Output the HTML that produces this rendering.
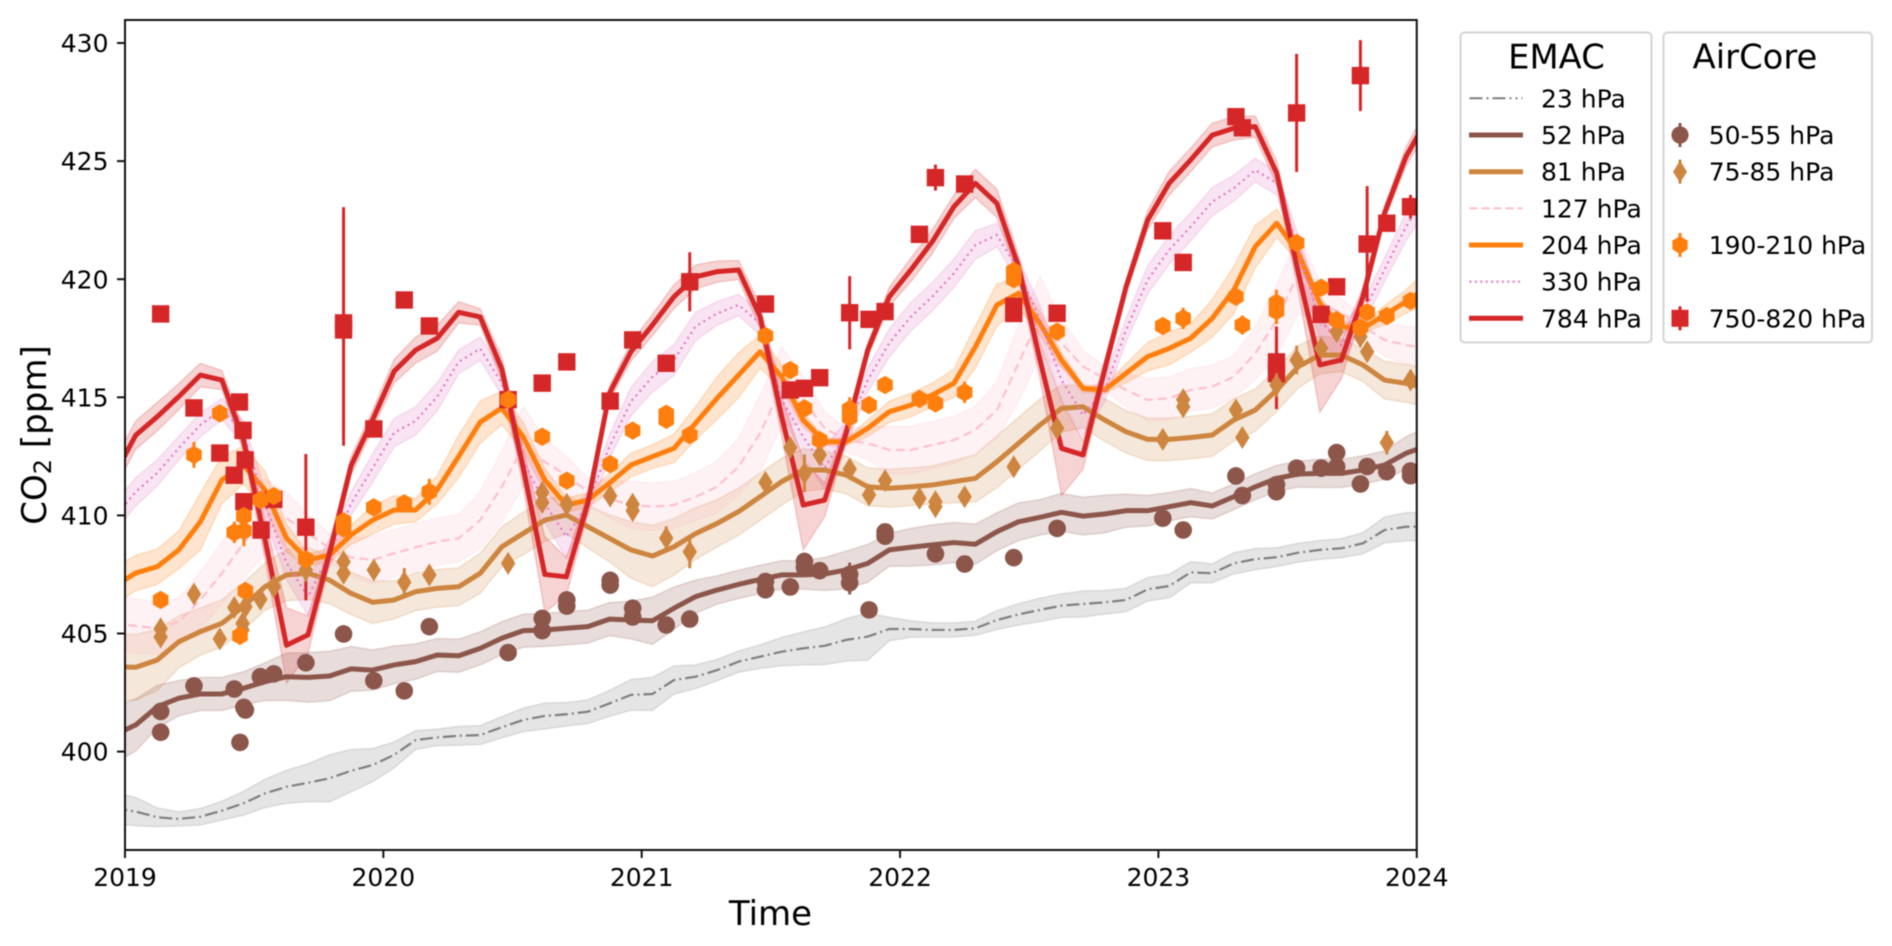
<!DOCTYPE html>
<html lang="en">
<head>
<meta charset="utf-8">
<title>CO2 EMAC and AirCore</title>
<style>
html,body{margin:0;padding:0;background:#fff;}
svg{display:block;font-family:"DejaVu Sans","Liberation Sans",sans-serif;filter:blur(0.5px);}
</style>
</head>
<body>
<svg id="chart" xmlns="http://www.w3.org/2000/svg" width="1892" height="946" viewBox="0 0 1892 946">
  <defs><clipPath id="plot-clip"><rect x="125" y="20" width="1291.75" height="830"/></clipPath></defs>
  <rect x="0" y="0" width="1892" height="946" fill="#fff"/>
  <g id="bands" clip-path="url(#plot-clip)"></g>
  <g id="lines" clip-path="url(#plot-clip)"></g>
  <g id="markers" clip-path="url(#plot-clip)"></g>
  <rect x="125" y="20" width="1291.75" height="830" fill="none" stroke="#111" stroke-width="2"/>
  <g id="axes"></g>
  <text x="770.5" y="925" font-size="34" text-anchor="middle" fill="#000">Time</text>
  <text transform="translate(46,435) rotate(-90)" font-size="34" text-anchor="middle" fill="#000">CO<tspan font-size="24" dy="5">2</tspan><tspan dy="-5"> [ppm]</tspan></text>

  <g>
    <rect x="1460.5" y="32.5" width="191" height="310" rx="4" fill="#fff" stroke="#d4d4d4" stroke-width="2"/>
    <text x="1556.5" y="68.5" font-size="33.8" text-anchor="middle">EMAC</text>
    <line x1="1469.5" x2="1522.5" y1="98.3" y2="98.3" stroke="#7f7f7f" stroke-width="2" stroke-dasharray="13,4,2,4,13,4,2,4,2,4"/>
    <text x="1541" y="107.3" font-size="25">23 hPa</text>
    <line x1="1469" x2="1523" y1="135" y2="135" stroke="#8c564b" stroke-width="5"/>
    <text x="1541" y="144" font-size="25">52 hPa</text>
    <line x1="1469" x2="1523" y1="171.7" y2="171.7" stroke="#cd853f" stroke-width="5"/>
    <text x="1541" y="180.7" font-size="25">81 hPa</text>
    <line x1="1469.5" x2="1522.5" y1="208.3" y2="208.3" stroke="#ffc0cb" stroke-width="2.2" stroke-dasharray="8,4"/>
    <text x="1541" y="217.3" font-size="25">127 hPa</text>
    <line x1="1469" x2="1523" y1="245" y2="245" stroke="#ff7f0e" stroke-width="5"/>
    <text x="1541" y="254" font-size="25">204 hPa</text>
    <line x1="1469.5" x2="1522.5" y1="281.7" y2="281.7" stroke="#e377c2" stroke-width="2.2" stroke-dasharray="2,3.4"/>
    <text x="1541" y="290.7" font-size="25">330 hPa</text>
    <line x1="1469" x2="1523" y1="318.3" y2="318.3" stroke="#d62728" stroke-width="5"/>
    <text x="1541" y="327.3" font-size="25">784 hPa</text>
  </g>

  <g>
    <rect x="1663.5" y="32.5" width="208.5" height="310" rx="4" fill="#fff" stroke="#d4d4d4" stroke-width="2"/>
    <text x="1755" y="68.5" font-size="33.8" text-anchor="middle">AirCore</text>
    <line x1="1680" x2="1680" y1="123" y2="147" stroke="#8c564b" stroke-width="3"/>
    <circle cx="1680" cy="135" r="8.6" fill="#8c564b"/>
    <text x="1708.7" y="144" font-size="25">50-55 hPa</text>
    <line x1="1680" x2="1680" y1="159.7" y2="183.7" stroke="#cd853f" stroke-width="3"/>
    <polygon points="1680,160.7 1687,171.7 1680,182.7 1673,171.7" fill="#cd853f"/>
    <text x="1708.7" y="180.7" font-size="25">75-85 hPa</text>
    <line x1="1680" x2="1680" y1="233" y2="257" stroke="#ff7f0e" stroke-width="3"/>
    <polygon points="1680,236 1687.6,240.5 1687.6,249.5 1680,254 1672.4,249.5 1672.4,240.5" fill="#ff7f0e"/>
    <text x="1708.7" y="254" font-size="25">190-210 hPa</text>
    <line x1="1680" x2="1680" y1="306.3" y2="330.3" stroke="#d62728" stroke-width="3"/>
    <rect x="1671.5" y="309.8" width="17" height="17" fill="#d62728"/>
    <text x="1708.7" y="327.3" font-size="25">750-820 hPa</text>
  </g>
</svg>
<script>
// ---- tick labels ----
const xTickYears = [2019, 2020, 2021, 2022, 2023, 2024];
const yTickValues = [400, 405, 410, 415, 420, 425, 430];

// ---- EMAC monthly means: Dec 2018, 2019 (12), 2020 (12), 2021 (12), 2022 (12), 2023 (12), Jan 2024 ----
const mean23 = [397.6,
 397.46,397.22,397.15,397.24,397.5,397.81,398.23,398.51,398.68,398.87,399.19,399.43,
 399.86,400.49,400.6,400.67,400.7,401.03,401.34,401.51,401.58,401.69,402.04,402.4,
 402.44,403.03,403.17,403.45,403.81,404.02,404.23,404.37,404.48,404.73,404.87,405.19,
 405.19,405.15,405.15,405.22,405.57,405.81,406,406.18,406.25,406.32,406.42,406.87,
 407.01,407.59,407.55,407.97,408.15,408.23,408.42,408.54,408.61,408.82,409.38,409.52,
 409.52];
const spread23 = [.65,
 .6,.4,.3,.35,.4,.5,.6,.7,.8,1,.9,.7,
 .55,.4,.35,.4,.4,.45,.5,.55,.5,.5,.55,.65,
 .7,.6,.5,.45,.45,.5,.6,.7,.8,.9,1,.5,
 .35,.3,.3,.3,.4,.45,.5,.5,.55,.5,.5,.5,
 .5,.45,.4,.45,.45,.4,.4,.4,.4,.45,.55,.6,
 .6];
const mean52 = [400.7,
 401.13,401.9,402.26,402.44,402.44,402.68,402.96,403.17,403.14,403.2,403.5,403.45,
 403.67,403.81,404.09,404.06,404.37,404.8,405.12,405.15,405.22,405.29,405.61,405.57,
 405.54,406.07,406.56,406.84,407.08,407.29,407.48,407.48,407.52,407.69,407.97,408.54,
 408.65,408.75,408.85,408.78,409.31,409.73,409.92,410.13,409.97,410.06,410.2,410.2,
 410.37,410.54,410.4,410.79,411.21,411.57,411.75,411.78,411.78,411.92,412.13,412.63,
 412.95];
const spread52 = [1.2,
 1.1,.9,.75,.7,.7,.7,.8,1,1.05,1.05,.95,.85,
 .8,.75,.7,.7,.7,.7,.7,.7,.7,.7,.7,.8,
 1,.9,.7,.6,.6,.6,.6,.6,.7,.8,.8,.7,
 .8,.85,.85,.85,.8,.8,.75,.8,.8,.8,.7,.65,
 .6,.6,.55,.55,.55,.55,.55,.6,.6,.6,.6,.7,
 .8];
const mean81 = [403.6,
 403.57,403.88,404.65,405.08,405.43,406.14,406.98,407.48,407.55,407.26,406.7,406.32,
 406.42,406.77,406.91,406.98,407.55,408.67,409.24,409.8,410.02,409.52,409.03,408.54,
 408.28,408.67,409.23,409.66,410.16,410.79,411.43,411.92,411.92,411.71,411.21,411.15,
 411.21,411.29,411.43,411.57,412.27,413.05,413.83,414.53,414.6,414.04,413.54,413.22,
 413.22,413.3,413.4,414.04,414.46,415.31,416.3,416.79,416.79,416.37,415.73,415.59,
 415.38];
const spread81 = [1.4,
 1.4,1.3,1.1,1,1,1,1,1.1,1.1,1,.9,.9,
 .8,.8,.8,.8,.85,.85,.9,.9,.8,.9,1,1.2,
 1.3,1.2,1.1,1,1,1,1,.9,.8,.8,.8,.8,
 .8,.8,.9,1,1.1,1.1,1.1,1,.9,.9,.9,.9,
 .9,.9,.9,.9,.9,.9,.9,.8,.7,.7,.8,.8,
 .8];
const mean127 = [405.43,
 405.32,405.22,405.5,406.42,407.55,408.82,409.95,409.88,409.24,408.61,408.22,408.11,
 408.4,408.65,408.89,409.03,409.8,411.21,412.91,412.27,411.7,411,410.7,410.44,
 410.37,410.44,410.79,411.21,412.06,413.48,415.45,414.89,413.69,413.19,413.05,412.77,
 412.77,412.98,413.19,413.62,414.46,416.44,418.41,417.29,416.3,415.8,415.31,414.89,
 414.96,415.31,415.45,415.87,416.86,418.27,420.25,419,418.55,418,417.43,417.21,
 417.07];
const spread127 = [1.1,
 1.15,1.1,1,1.2,1.3,1.5,1.6,1.1,.8,.6,.8,1,
 1,1,1,1,1.2,1.5,1.7,1,.8,.6,.8,1,
 1,1,1,1.1,1.2,1.6,1.7,1,.7,.5,.7,1,
 1,1,1,1,1.2,1.6,1.7,1,.7,.5,.7,.9,
 .9,.9,.9,.9,1.1,1.5,1.7,.9,.6,.5,.7,.8,
 .9];
const mean204 = [407,
 407.56,407.83,408.54,409.73,411.5,412.13,411.08,409.04,408.11,408.32,409.17,409.8,
 410.23,410.23,411.08,412.5,413.95,414.55,413.32,411.5,410.44,410.65,411.37,412.13,
 412.49,412.84,413.9,414.96,415.94,416.93,415.87,414.04,413.12,413.12,413.69,414.39,
 414.67,415.1,415.59,417.14,418.91,419.4,418.13,416.58,415.38,415.31,416.02,416.72,
 417.07,417.5,418.34,419.54,421.38,422.37,421.1,418.98,417.99,417.92,418.48,419.05,
 419.68];
const spread204 = [.8,
 .75,.75,.8,1.2,1,.8,.8,.6,.25,.3,.4,.6,
 .6,.5,.6,.9,.9,.7,.6,.5,.3,.3,.4,.5,
 .5,.6,.7,.9,.95,.7,.5,.3,.15,.15,.35,.45,
 .5,.5,.6,.9,.9,.6,.5,.3,.15,.15,.4,.6,
 .7,.6,.8,1,.9,.6,.4,.25,.2,.2,.4,.5,
 .7];
const mean330 = [409.9,
 411,411.8,412.85,413.83,414.5,413.5,410.5,408,406.55,408.4,410.5,412,
 413.5,414,415.02,416.5,417.06,415.6,412.3,410.5,409.1,410.5,412.9,414.82,
 415.87,416.58,418,418.55,418.91,418.13,414.89,413.33,412,413.5,415.73,417.3,
 418.41,419.26,420.25,421.45,421.87,420.39,418.27,415.73,414.25,415.3,417.85,419.97,
 421.24,422.22,423.28,423.85,424.62,424.06,421.24,418.27,417.21,418.55,420.4,422.22,
 423.64];
const spread330 = [.6,
 .6,.55,.5,.5,.45,.5,.6,.7,.8,.6,.5,.6,
 .6,.6,.6,.5,.5,.5,.6,.8,.9,.5,.5,.6,
 .65,.65,.6,.5,.45,.5,.6,.8,.9,.5,.5,.6,
 .6,.6,.6,.6,.5,.5,.6,.8,.9,.5,.5,.6,
 .6,.6,.6,.55,.5,.5,.6,.8,.8,.5,.5,.6,
 .6];
const mean784 = [411.7,
 413.4,414.18,415.03,415.94,415.73,413.2,409,404.5,404.94,408.4,412.1,414.04,
 416.1,417,417.5,418.6,418.4,416.2,412,407.5,407.4,410.53,415.17,416.93,
 418.06,419.26,420.1,420.32,420.39,418.41,414.18,410.44,410.65,413.5,417,419.26,
 420.39,421.59,423.07,424.06,423.21,420.53,416.58,412.84,412.56,416.16,419.68,422.5,
 424.06,425.05,426.1,426.39,426.46,424.48,420.26,416.37,416.58,419.26,422.79,425.19,
 426.8];
const spread784 = [.6,
 .6,.6,.55,.5,.4,.5,.8,1.6,.8,.4,.4,.4,
 .5,.55,.55,.45,.35,.5,.8,1.6,.8,.4,.3,.4,
 .45,.5,.5,.45,.4,.5,.8,1.9,.7,.4,.3,.4,
 .5,.5,.5,.6,.6,.5,.8,2,.6,.4,.3,.4,
 .5,.5,.5,.5,.45,.5,.8,2,.8,.4,.3,.4,
 .5];

// ---- AirCore samples: decimal date, CO2 value, error ----
const dates750 = [2019.138,2019.267,2019.367,2019.423,2019.443,2019.457,2019.46,2019.465,2019.527,2019.576,2019.70,2019.846,2019.846,2019.963,2020.081,2020.178,2020.483,2020.615,2020.71,2020.878,2020.965,2021.095,2021.186,2021.479,2021.575,2021.63,2021.689,2021.805,2021.88,2021.942,2022.075,2022.137,2022.25,2022.44,2022.44,2022.608,2023.017,2023.096,2023.30,2023.325,2023.457,2023.457,2023.535,2023.63,2023.69,2023.782,2023.808,2023.884,2023.976];
const values750 = [418.53,414.55,412.64,411.7,414.8,413.6,410.58,412.35,409.38,410.68,409.5,418.15,417.85,413.66,419.12,418.02,414.9,415.6,416.5,414.84,417.43,416.44,419.89,418.95,415.31,415.38,415.83,418.58,418.3,418.63,421.9,424.3,424.03,418.85,418.55,418.56,422.05,420.71,426.88,426.41,416.5,416,427.04,418.51,419.68,428.62,421.49,422.37,423.07];
const errors750 = [0.1,0.1,0.1,0.2,0.1,0.1,0.1,0.1,0.1,0.1,3.1,4.9,4.9,0.1,0.1,0.2,0.35,0.1,0.1,0.2,0.1,0.1,1.25,0.1,0.1,0.1,0.1,1.55,0.1,0.1,0.2,0.55,0.1,0.2,0.2,0.1,0.2,0.1,0.1,0.1,1.5,1.5,2.5,0.1,0.1,1.5,2.45,0.1,0.5];

const dates190 = [2019.138,2019.267,2019.367,2019.423,2019.46,2019.46,2019.466,2019.445,2019.524,2019.576,2019.70,2019.846,2019.846,2019.963,2020.081,2020.178,2020.483,2020.615,2020.71,2020.878,2020.965,2021.095,2021.095,2021.186,2021.479,2021.575,2021.63,2021.689,2021.805,2021.805,2021.88,2021.942,2022.075,2022.137,2022.25,2022.44,2022.44,2022.608,2023.017,2023.096,2023.30,2023.325,2023.457,2023.457,2023.535,2023.63,2023.69,2023.782,2023.808,2023.884,2023.976];
const values190 = [406.42,412.56,414.32,409.28,409.35,409.97,406.8,404.9,410.65,410.82,408.14,409.75,409.45,410.34,410.51,411,414.9,413.33,411.47,412.17,413.59,414.05,414.3,413.4,417.6,416.15,414.53,413.19,414.15,414.5,414.67,415.52,414.93,414.74,415.21,420,420.35,417.78,418.02,418.34,419.26,418.06,418.65,419,421.53,419.64,418.27,417.96,418.6,418.44,419.08];
const errors190 = [0.1,0.55,0.35,0.45,0.65,0.1,0.3,0.1,0.1,0.1,0.1,0.2,0.2,0.1,0.1,0.55,0.2,0.1,0.1,0.1,0.1,0.1,0.1,0.1,0.1,0.1,0.1,0.1,0.5,0.5,0.1,0.1,0.1,0.1,0.45,0.2,0.2,0.1,0.1,0.45,0.1,0.4,0.55,0.55,0.1,0.1,0.2,0.1,0.1,0.1,0.2];

const dates75 = [2019.138,2019.138,2019.267,2019.367,2019.423,2019.466,2019.455,2019.455,2019.524,2019.576,2019.70,2019.846,2019.846,2019.963,2020.081,2020.178,2020.483,2020.615,2020.615,2020.71,2020.878,2020.965,2020.965,2021.095,2021.186,2021.479,2021.575,2021.63,2021.689,2021.805,2021.88,2021.942,2022.075,2022.137,2022.137,2022.25,2022.44,2022.608,2023.017,2023.096,2023.096,2023.30,2023.325,2023.457,2023.535,2023.63,2023.69,2023.782,2023.808,2023.884,2023.976];
const values75 = [405.2,404.85,406.67,404.77,406.1,406.13,405.15,405.43,406.45,406.98,407.69,408.04,407.55,407.69,407.17,407.48,407.97,410.97,410.55,410.47,410.82,410.47,410.2,409.04,408.46,411.4,412.87,411.78,412.56,411.96,410.87,411.47,410.72,410.58,410.37,410.79,412.06,413.69,413.22,414.9,414.6,414.46,413.3,415.52,416.58,417.07,417.78,417.57,416.93,413.08,415.73];
const errors75 = [0.1,0.1,0.1,0.1,0.3,0.1,0.2,0.2,0.1,0.1,0.5,0.1,0.1,0.1,0.6,0.1,0.1,0.2,0.2,0.1,0.1,0.1,0.1,0.5,0.7,0.1,0.1,0.8,0.1,0.1,0.1,0.1,0.1,0.1,0.1,0.1,0.1,0.2,0.1,0.2,0.2,0.1,0.1,0.5,0.6,0.1,0.3,0.2,0.1,0.5,0.1];

const dates50 = [2019.138,2019.138,2019.267,2019.423,2019.46,2019.466,2019.445,2019.524,2019.576,2019.70,2019.846,2019.963,2020.081,2020.178,2020.483,2020.615,2020.615,2020.71,2020.71,2020.878,2020.878,2020.965,2020.965,2021.095,2021.186,2021.479,2021.479,2021.575,2021.63,2021.63,2021.689,2021.805,2021.805,2021.88,2021.942,2021.942,2022.137,2022.25,2022.44,2022.608,2023.017,2023.096,2023.30,2023.325,2023.457,2023.457,2023.535,2023.63,2023.69,2023.69,2023.782,2023.808,2023.884,2023.976,2023.976];
const values50 = [401.7,400.82,402.78,402.65,401.87,401.76,400.39,403.17,403.29,403.76,404.98,403,402.57,405.29,404.19,405.64,405.12,406.42,406.16,407.25,407.05,406.07,405.7,405.36,405.61,407.2,406.85,406.97,408.05,407.8,407.66,407.5,407.15,406,409.3,409.12,408.37,407.94,408.21,409.45,409.88,409.38,411.67,410.84,411.3,411,412,412,412.66,412.06,411.33,412.07,411.85,411.88,411.68];
const errors50 = [0.1,0.1,0.1,0.1,0.1,0.1,0.1,0.1,0.1,0.1,0.1,0.1,0.1,0.1,0.1,0.1,0.1,0.1,0.1,0.2,0.2,0.1,0.1,0.1,0.1,0.1,0.1,0.1,0.1,0.1,0.3,0.5,0.5,0.1,0.2,0.2,0.1,0.1,0.1,0.1,0.1,0.1,0.1,0.1,0.1,0.1,0.1,0.1,0.1,0.1,0.1,0.1,0.1,0.1,0.1];

// ---- axis functions ----
function xScale(year) { return 125 + (year - 2019) * 258.35; }
function yScale(ppm) { return 43 + (430 - ppm) * 23.62; }
function monthDate(index) { return 2019 + (index - 0.5) / 12; }

const NS = 'http://www.w3.org/2000/svg';
function make(tag, attrs, parent) {
  const node = document.createElementNS(NS, tag);
  for (const key in attrs) { node.setAttribute(key, attrs[key]); }
  parent.appendChild(node);
  return node;
}
function fmt(n) { return n.toFixed(2); }

const bandsGroup = document.getElementById('bands');
const linesGroup = document.getElementById('lines');
const markersGroup = document.getElementById('markers');
const axesGroup = document.getElementById('axes');

function drawModel(label, means, spreads, color, width, dash) {
  let upper = [];
  let lower = [];
  let centre = [];
  means.forEach(function (m, i) {
    const x = fmt(xScale(monthDate(i)));
    upper.push(x + ',' + fmt(yScale(m + spreads[i])));
    lower.unshift(x + ',' + fmt(yScale(m - spreads[i])));
    centre.push(x + ',' + fmt(yScale(m)));
  });
  const band = make('polygon', {
    points: upper.concat(lower).join(' '),
    fill: color, 'fill-opacity': 0.2,
    stroke: color, 'stroke-opacity': 0.2, 'stroke-width': 1.5
  }, bandsGroup);
  
  
  const line = make('polyline', {
    points: centre.join(' '), fill: 'none', stroke: color,
    'stroke-width': width, 'stroke-linejoin': 'round'
  }, linesGroup);
  if (dash) { line.setAttribute('stroke-dasharray', dash); }
  
  
}

drawModel('23-hpa', mean23, spread23, '#7f7f7f', 2.2, '13,4,2,4');
drawModel('52-hpa', mean52, spread52, '#8c564b', 5, '');
drawModel('81-hpa', mean81, spread81, '#cd853f', 5, '');
drawModel('127-hpa', mean127, spread127, '#ffc0cb', 2.2, '9,5');
drawModel('204-hpa', mean204, spread204, '#ff7f0e', 5, '');
drawModel('330-hpa', mean330, spread330, '#e377c2', 2.2, '2,4');
drawModel('784-hpa', mean784, spread784, '#d62728', 5, '');

function drawShape(shape, cx, cy, color) {
  if (shape === 'square') {
    return make('rect', { x: cx - 8.7, y: cy - 8.7, width: 17.4, height: 17.4, fill: color }, markersGroup);
  }
  if (shape === 'circle') {
    return make('circle', { cx: cx, cy: cy, r: 8.8, fill: color }, markersGroup);
  }
  if (shape === 'hexagon') {
    const hex = [[0,-9.2],[7.8,-4.6],[7.8,4.6],[0,9.2],[-7.8,4.6],[-7.8,-4.6]];
    return make('polygon', { points: hex.map(function (p) { return fmt(cx + p[0]) + ',' + fmt(cy + p[1]); }).join(' '), fill: color }, markersGroup);
  }
  const dia = [[0,-11.5],[7.2,0],[0,11.5],[-7.2,0]];
  return make('polygon', { points: dia.map(function (p) { return fmt(cx + p[0]) + ',' + fmt(cy + p[1]); }).join(' '), fill: color }, markersGroup);
}

function drawSamples(label, dates, values, errors, shape, color) {
  dates.forEach(function (d, i) {
    const cx = xScale(d);
    const bar = make('line', {
      x1: cx, x2: cx, y1: yScale(values[i] + errors[i]), y2: yScale(values[i] - errors[i]),
      stroke: color, 'stroke-width': 3
    }, markersGroup);
    
    
    const mark = drawShape(shape, cx, yScale(values[i]), color);
    
    
  });
}

drawSamples('750-820-hpa', dates750, values750, errors750, 'square', '#d62728');
drawSamples('75-85-hpa', dates75, values75, errors75, 'diamond', '#cd853f');
drawSamples('190-210-hpa', dates190, values190, errors190, 'hexagon', '#ff7f0e');
drawSamples('50-55-hpa', dates50, values50, errors50, 'circle', '#8c564b');

xTickYears.forEach(function (yr) {
  const x = xScale(yr);
  const tick = make('line', { x1: x, x2: x, y1: 850, y2: 858, stroke: '#111', 'stroke-width': 2 }, axesGroup);
  
  
  const text = make('text', { x: x, y: 886, 'font-size': 25, 'text-anchor': 'middle', fill: '#000' }, axesGroup);
  text.textContent = String(yr);
  
  
});
yTickValues.forEach(function (v) {
  const y = yScale(v);
  const tick = make('line', { x1: 117, x2: 125, y1: y, y2: y, stroke: '#111', 'stroke-width': 2 }, axesGroup);
  
  
  const text = make('text', { x: 108.5, y: y + 9.1, 'font-size': 25, 'text-anchor': 'end', fill: '#000' }, axesGroup);
  text.textContent = String(v);
  
  
});
</script>
</body>
</html>
